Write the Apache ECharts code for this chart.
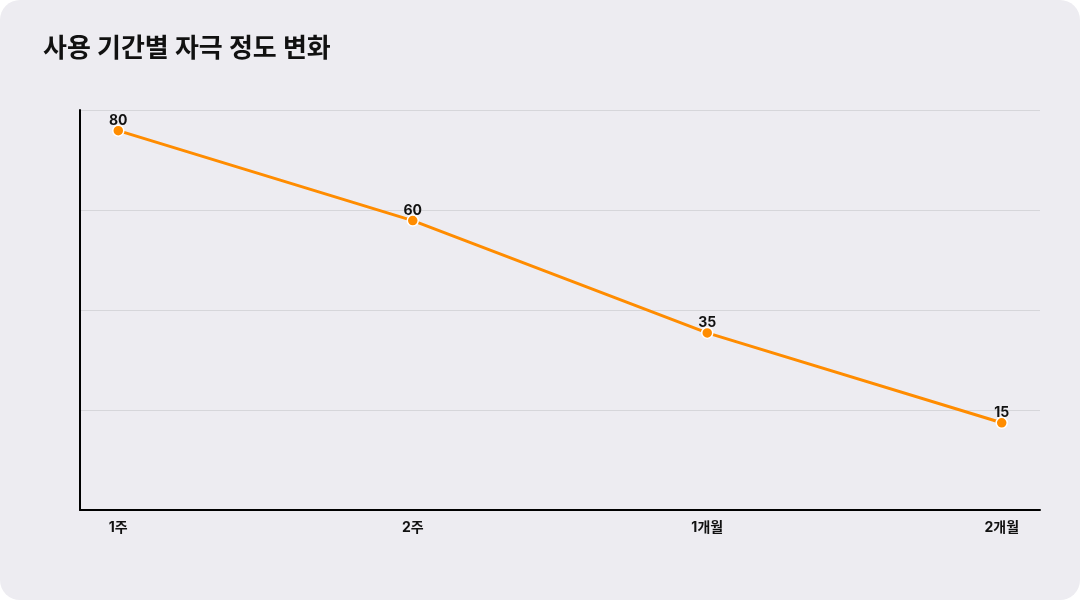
<!DOCTYPE html>
<html><head><meta charset="utf-8">
<script src="https://cdn.jsdelivr.net/npm/echarts@6/dist/echarts.min.js"></script>
<style>
html,body{margin:0;padding:0;background:#ffffff;}
#c{width:1080px;height:600px;border-radius:20px;background:#edecf1;overflow:hidden;}
</style></head>
<body><div id="c"></div>
<script>
const title = '사용 기간별 자극 정도 변화';
const categories = ['1주', '2주', '1개월', '2개월'];
const values = [80, 60, 35, 15];

const chart = echarts.init(document.getElementById('c'), null, {renderer: 'canvas'});
const font = 'Inter, "Noto Sans CJK KR", sans-serif';
chart.setOption({
  backgroundColor: 'transparent',
  animation: false,
  title: {
    text: title, left: 38, top: 31,
    textStyle: {fontFamily: font, fontSize: 26, fontWeight: 'bold', color: '#111111'}
  },
  grid: {left: 80, right: 40, top: 110, bottom: 90, containLabel: false},
  xAxis: {
    type: 'value', min: -0.13, max: 3.13,
    axisLine: {show: true, onZero: false, lineStyle: {color: '#000000', width: 2}},
    axisTick: {show: false},
    splitLine: {show: false},
    axisLabel: {
      customValues: [0, 1, 2, 3],
      formatter: v => categories[Math.round(v)],
      fontFamily: font, fontSize: 14, fontWeight: 'bold', color: '#111111', margin: 11
    }
  },
  yAxis: {
    type: 'value', min: -4.4, max: 84.6, interval: 22.25,
    axisLine: {show: true, onZero: false, lineStyle: {color: '#000000', width: 2}},
    axisTick: {show: false},
    axisLabel: {show: false},
    splitLine: {show: true, lineStyle: {color: '#d6d6da', width: 1}}
  },
  series: [{
    type: 'line',
    data: values.map((v, i) => [i, v]),
    lineStyle: {color: '#ff8c00', width: 3},
    itemStyle: {color: '#ff8c00', borderColor: '#ffffff', borderWidth: 1.5},
    symbol: 'circle', symbolSize: 11,
    label: {
      show: true, position: 'top', distance: -3,
      formatter: p => p.value[1],
      fontFamily: font, fontSize: 14, fontWeight: 'bold', color: '#111111'
    }
  }]
});
</script></body></html>
